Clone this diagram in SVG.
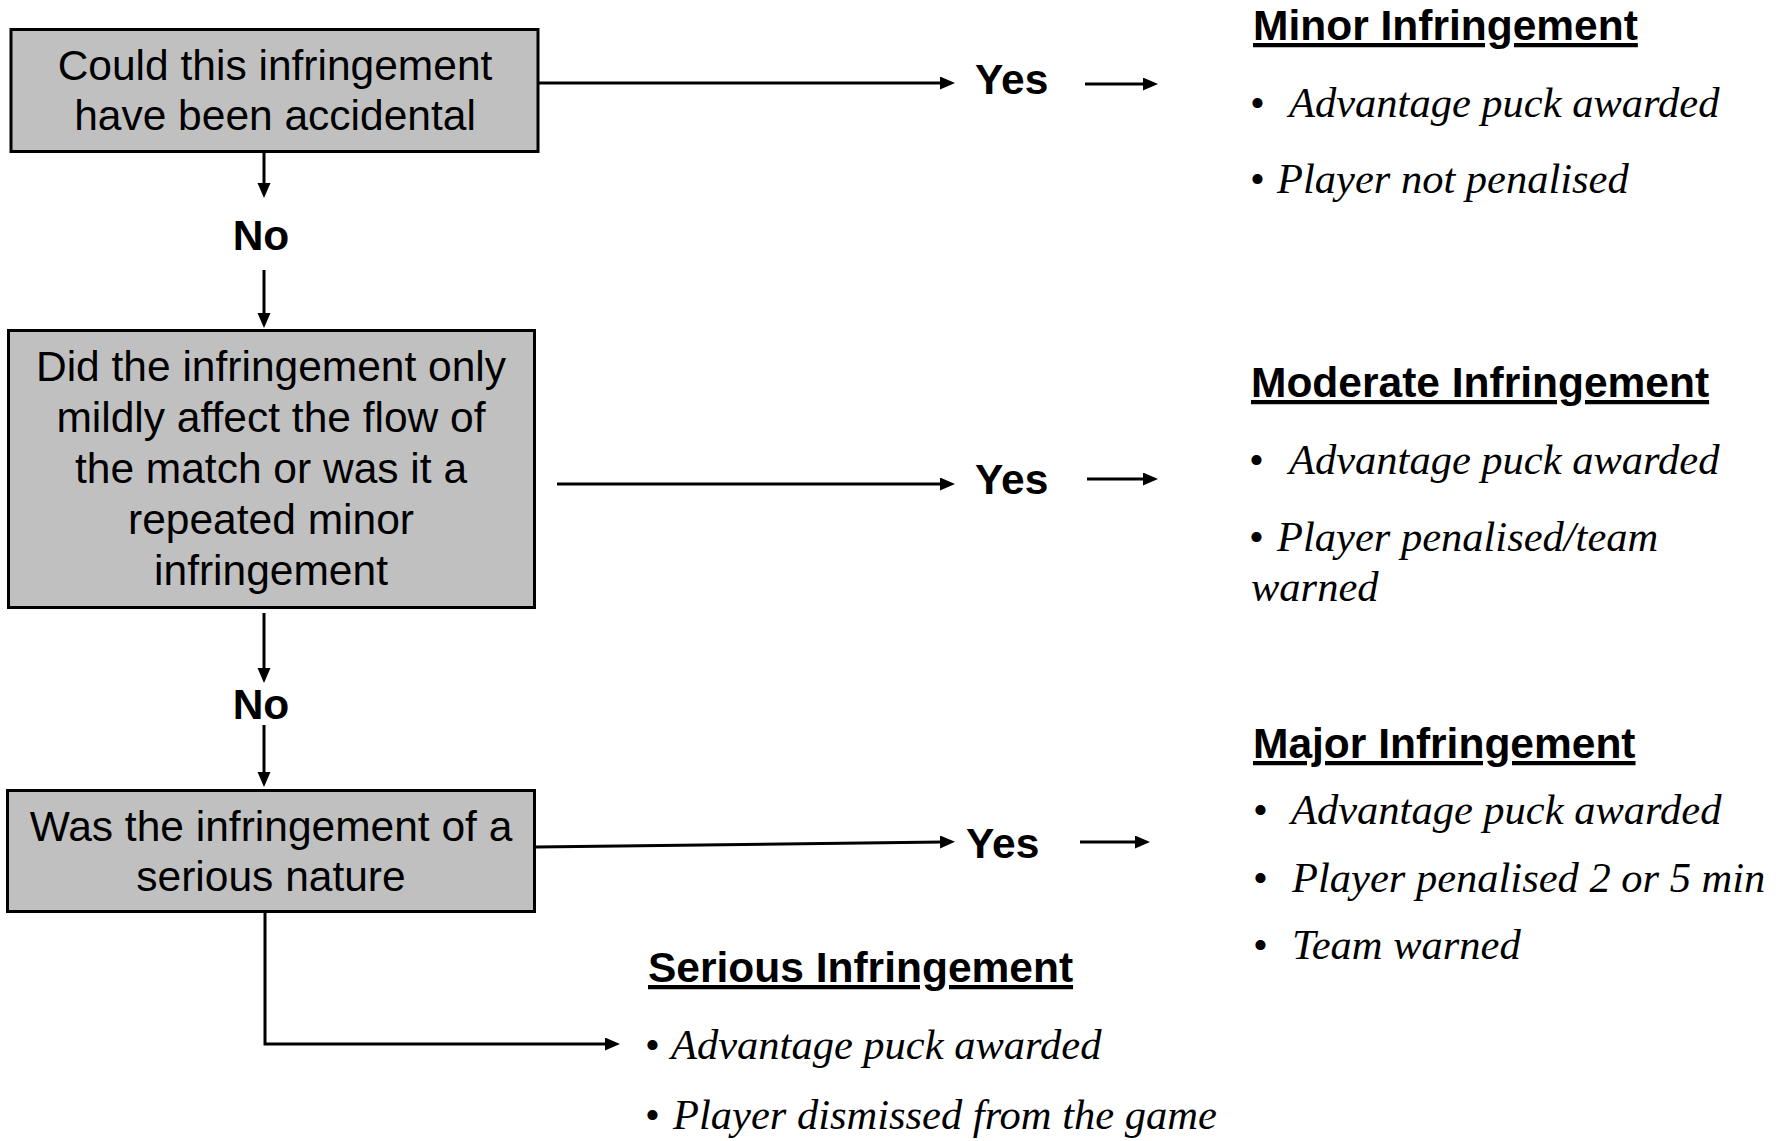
<svg xmlns="http://www.w3.org/2000/svg" width="1782" height="1141" viewBox="0 0 1782 1141">
<style>
.box{fill:#c0c0c0;stroke:#000;stroke-width:3}
.q{font-family:"Liberation Sans",Arial,sans-serif;font-size:42.5px;fill:#000;text-anchor:middle}
.lbl{font-family:"Liberation Sans",Arial,sans-serif;font-size:42.5px;font-weight:bold;fill:#000}
.hd{font-family:"Liberation Sans",Arial,sans-serif;font-size:42.5px;font-weight:bold;fill:#000;text-decoration:underline}
.it{font-family:"Liberation Serif","Times New Roman",serif;font-size:42.5px;font-style:italic;fill:#000}
.bu{font-family:"Liberation Serif","Times New Roman",serif;font-size:42.5px;font-style:normal;fill:#000}
.ln{fill:none;stroke:#000;stroke-width:3}
</style>
<defs>
<marker id="ah" markerUnits="userSpaceOnUse" markerWidth="16" markerHeight="14" refX="3" refY="6.5" orient="auto">
<path d="M0,0 L15,6.5 L0,13 z" fill="#000"/>
</marker>
</defs>
<rect width="1782" height="1141" fill="#fff"/>

<g id="q1">
<rect class="box" x="11" y="29.5" width="527" height="122"/>
<text class="q" x="275" y="80">Could this infringement</text>
<text class="q" x="275" y="130">have been accidental</text>
</g>

<g id="q2">
<rect class="box" x="8.5" y="330.5" width="526" height="277"/>
<text class="q" x="271" y="381">Did the infringement only</text>
<text class="q" x="271" y="432">mildly affect the flow of</text>
<text class="q" x="271" y="483">the match or was it a</text>
<text class="q" x="271" y="534">repeated minor</text>
<text class="q" x="271" y="585">infringement</text>
</g>

<g id="q3">
<rect class="box" x="7.5" y="790.5" width="527" height="121"/>
<text class="q" x="271" y="841">Was the infringement of a</text>
<text class="q" x="271" y="891">serious nature</text>
</g>

<g id="labels">
<text class="lbl" x="261" y="250" text-anchor="middle">No</text>
<text class="lbl" x="261" y="719" text-anchor="middle">No</text>
<text class="lbl" x="975" y="94">Yes</text>
<text class="lbl" x="975" y="494">Yes</text>
<text class="lbl" x="966" y="858">Yes</text>
</g>

<g id="minor">
<text class="hd" x="1253" y="40">Minor Infringement</text>
<text y="117"><tspan class="bu" x="1250">•</tspan><tspan class="it" x="1289">Advantage puck awarded</tspan></text>
<text y="193"><tspan class="bu" x="1250">•</tspan><tspan class="it" x="1277">Player not penalised</tspan></text>
</g>

<g id="moderate">
<text class="hd" x="1251" y="397">Moderate Infringement</text>
<text y="474"><tspan class="bu" x="1249">•</tspan><tspan class="it" x="1289">Advantage puck awarded</tspan></text>
<text y="551"><tspan class="bu" x="1249">•</tspan><tspan class="it" x="1277">Player penalised/team</tspan></text>
<text class="it" x="1251" y="601">warned</text>
</g>

<g id="major">
<text class="hd" x="1253" y="758">Major Infringement</text>
<text y="824"><tspan class="bu" x="1253">•</tspan><tspan class="it" x="1291">Advantage puck awarded</tspan></text>
<text y="892"><tspan class="bu" x="1253">•</tspan><tspan class="it" x="1292">Player penalised 2 or 5 min</tspan></text>
<text y="959"><tspan class="bu" x="1253">•</tspan><tspan class="it" x="1292">Team warned</tspan></text>
</g>

<g id="serious">
<text class="hd" x="648" y="982">Serious Infringement</text>
<text y="1059"><tspan class="bu" x="645">•</tspan><tspan class="it" x="671">Advantage puck awarded</tspan></text>
<text y="1129"><tspan class="bu" x="645">•</tspan><tspan class="it" x="673">Player dismissed from the game</tspan></text>
</g>

<g id="connectors">
<line class="ln" x1="264" y1="153" x2="264" y2="186" marker-end="url(#ah)"/>
<line class="ln" x1="264" y1="270" x2="264" y2="316" marker-end="url(#ah)"/>
<line class="ln" x1="264" y1="613" x2="264" y2="671" marker-end="url(#ah)"/>
<line class="ln" x1="264" y1="725" x2="264" y2="775" marker-end="url(#ah)"/>
<line class="ln" x1="539" y1="83" x2="943" y2="83" marker-end="url(#ah)"/>
<line class="ln" x1="557" y1="484" x2="943" y2="484" marker-end="url(#ah)"/>
<line class="ln" x1="536" y1="847" x2="943" y2="842" marker-end="url(#ah)"/>
<line class="ln" x1="1085" y1="84" x2="1146" y2="84" marker-end="url(#ah)"/>
<line class="ln" x1="1087" y1="479" x2="1146" y2="479" marker-end="url(#ah)"/>
<line class="ln" x1="1080" y1="842" x2="1138" y2="842" marker-end="url(#ah)"/>
<polyline class="ln" points="265,913 265,1044 608,1044" marker-end="url(#ah)"/>
</g>
</svg>
